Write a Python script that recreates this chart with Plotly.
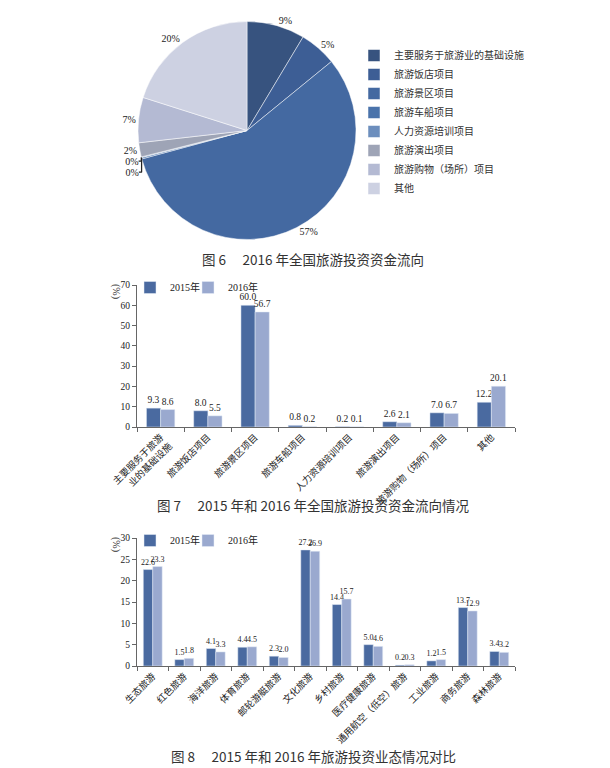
import plotly.graph_objects as go

# 图6 pie: 2016 flow of tourism investment
pie_labels = ["主要服务于旅游业的基础设施", "旅游饭店项目", "旅游景区项目", "旅游车船项目",
              "人力资源培训项目", "旅游演出项目", "旅游购物（场所）项目", "其他"]
pie_values = [8.6, 5.5, 56.7, 0.2, 0.1, 2.1, 6.7, 20.1]
pie_text = ["9%", "5%", "57%", "0%", "0%", "2%", "7%", "20%"]
pie_colors = ["#37537f", "#3d5e95", "#4469a1", "#4a73ab", "#6c8ebd", "#9ea4b6", "#b4bad3", "#cdd1e2"]

# 图7 bars
flow_cats = ["主要服务于旅游<br>业的基础设施", "旅游饭店项目", "旅游景区项目", "旅游车船项目",
             "人力资源培训项目", "旅游演出项目", "旅游购物（场所）项目", "其他"]
flow_2015 = [9.3, 8.0, 60.0, 0.8, 0.2, 2.6, 7.0, 12.2]
flow_2016 = [8.6, 5.5, 56.7, 0.2, 0.1, 2.1, 6.7, 20.1]

# 图8 bars
type_cats = ["生态旅游", "红色旅游", "海洋旅游", "体育旅游", "邮轮游艇旅游", "文化旅游",
             "乡村旅游", "医疗健康旅游", "通用航空（低空）旅游", "工业旅游", "商务旅游", "森林旅游"]
type_2015 = [22.6, 1.5, 4.1, 4.4, 2.3, 27.2, 14.4, 5.0, 0.2, 1.2, 13.7, 3.4]
type_2016 = [23.3, 1.8, 3.3, 4.5, 2.0, 26.9, 15.7, 4.6, 0.3, 1.5, 12.9, 3.2]

c2015 = "#4a6aa0"
c2016 = "#9aa9cf"
serif = "Liberation Serif, Noto Sans CJK SC"
sans = "Noto Sans CJK SC"

W, H = 610, 768


def px(x):
    return x / W


def py(y):
    return 1 - y / H


fig = go.Figure()

fig.add_trace(go.Pie(
    labels=pie_labels, values=pie_values, text=pie_text, textinfo="text",
    textposition="outside", sort=False, direction="clockwise", rotation=0,
    marker=dict(colors=pie_colors, line=dict(color="#ffffff", width=0.5)),
    textfont=dict(family=serif, size=10, color="#222"),
    domain=dict(x=[px(130), px(348)], y=[py(232), py(13)]),
    legend="legend", hoverinfo="label+percent"))

charts = [
    ("x", "y", flow_cats, flow_2015, flow_2016, 9.5, "legend2", "legend3"),
    ("x2", "y2", type_cats, type_2015, type_2016, 8, "legend4", "legend5"),
]
for xa, ya, cats, v15, v16, fs, lg15, lg16 in charts:
    for name, vals, col, lg in [("2015年", v15, c2015, lg15), ("2016年", v16, c2016, lg16)]:
        fig.add_trace(go.Bar(
            x=cats, y=vals, name=name, marker_color=col, xaxis=xa, yaxis=ya,
            text=vals, texttemplate="%{y:.1f}", textposition="outside", cliponaxis=False,
            constraintext="none", offsetgroup=name,
            textfont=dict(family=serif, size=fs, color="#222"), legend=lg))

axis_common = dict(showline=True, linecolor="#666", linewidth=1, showgrid=False,
                   zeroline=False, ticks="outside", ticklen=4, tickcolor="#666",
                   automargin=False,
                   tickfont=dict(family=serif, size=9.5, color="#222"))
xcat = dict(axis_common, tickangle=-45, tickson="boundaries",
            tickfont=dict(family=sans, size=9.5, color="#222"))

leg_bar = dict(xanchor="left", yanchor="top", bgcolor="rgba(0,0,0,0)",
               font=dict(family=serif, size=10, color="#222"))

fig.update_layout(
    width=W, height=H, margin=dict(l=0, r=0, t=0, b=0, autoexpand=False),
    paper_bgcolor="white", plot_bgcolor="white",
    barmode="group", bargap=0.4, bargroupgap=0,
    font=dict(family=serif, size=10, color="#222"),
    xaxis=dict(domain=[px(129), px(507)], anchor="y", **xcat),
    yaxis=dict(domain=[py(419), py(277)], anchor="x", range=[0, 70], dtick=10, **axis_common),
    xaxis2=dict(domain=[px(129), px(507)], anchor="y2", **xcat),
    yaxis2=dict(domain=[py(658), py(530)], anchor="x2", range=[0, 30], dtick=5, **axis_common),
    legend=dict(x=px(346), y=py(33), xanchor="left", yanchor="top", bgcolor="rgba(0,0,0,0)",
                font=dict(family=sans, size=10, color="#333"), tracegroupgap=0),
    legend2=dict(x=px(122), y=py(265), **leg_bar),
    legend3=dict(x=px(180), y=py(265), **leg_bar),
    legend4=dict(x=px(122), y=py(518), **leg_bar),
    legend5=dict(x=px(180), y=py(518), **leg_bar),
    showlegend=True,
)

captions = [("图 6\u2003 2016 年全国旅游投资资金流向", 251),
            ("图 7\u2003 2015 年和 2016 年全国旅游投资资金流向情况", 497),
            ("图 8\u2003 2015 年和 2016 年旅游投资业态情况对比", 748)]
for txt, ypx in captions:
    fig.add_annotation(text=txt, x=px(305), y=py(ypx), xref="paper", yref="paper",
                       xanchor="center", yanchor="middle",
                       showarrow=False, font=dict(family=sans, size=13.5, color="#333"))

for ypx in (283, 536):
    fig.add_annotation(text="(%)", x=px(108), y=py(ypx), xref="paper", yref="paper",
                       xanchor="center", yanchor="middle",
                       showarrow=False, textangle=90, font=dict(family=serif, size=10, color="#333"))

fig.write_html("out.html")
